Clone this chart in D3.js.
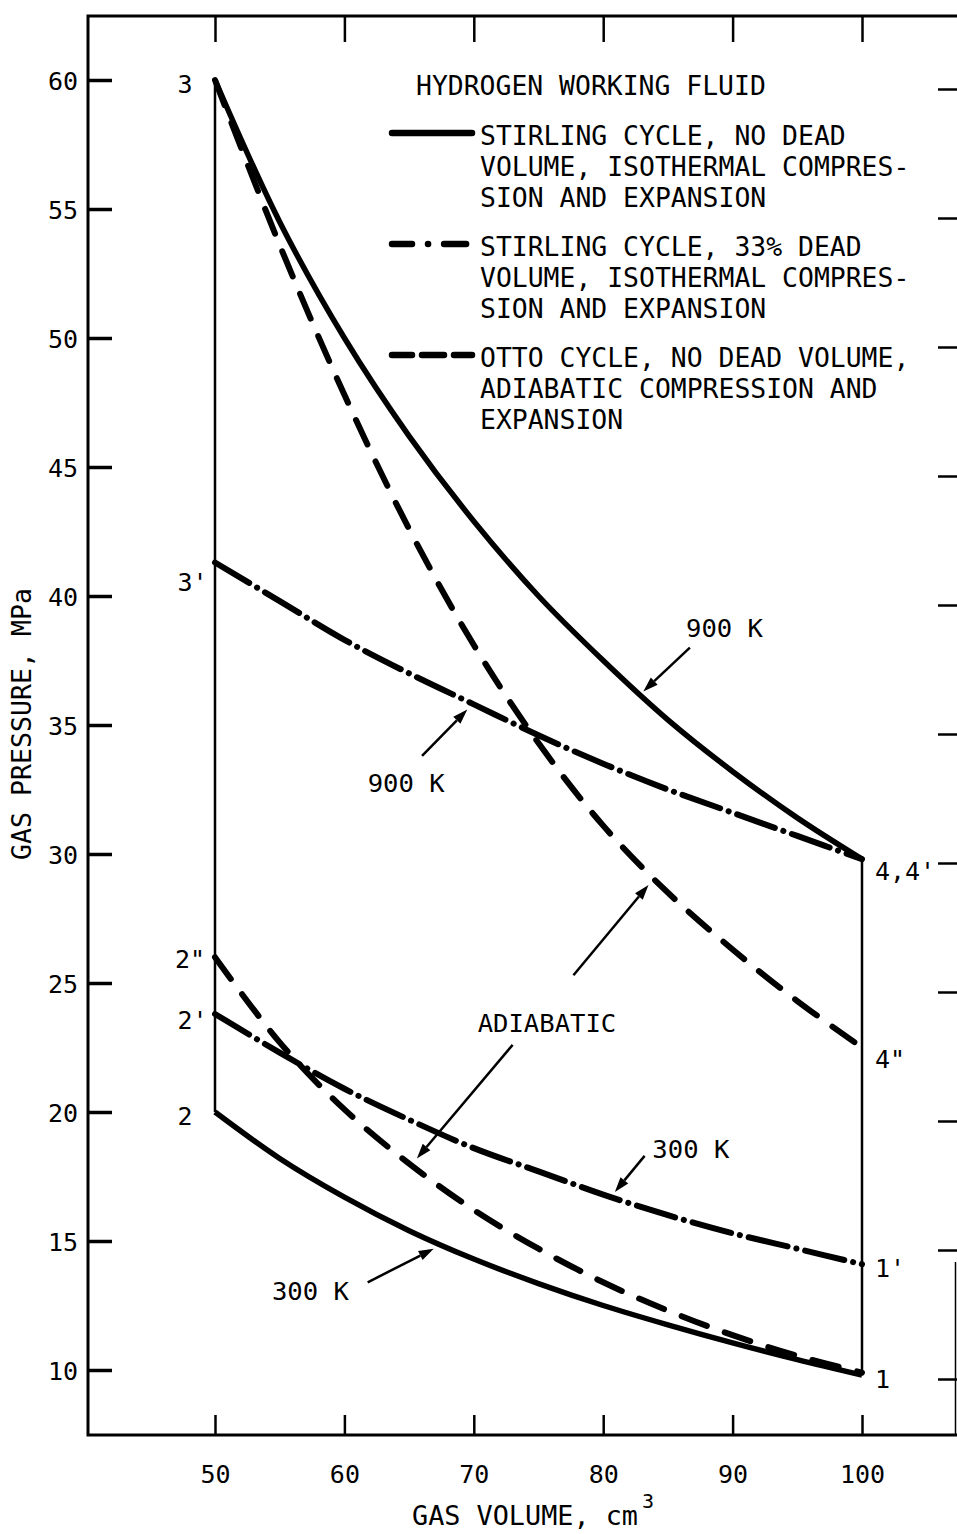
<!DOCTYPE html>
<html><head><meta charset="utf-8">
<script src="https://cdn.jsdelivr.net/npm/d3@7"></script>
<style>html,body{margin:0;padding:0;background:#fff;}svg text{font-family:'DejaVu Sans Mono',monospace;fill:#000;}</style>
</head><body>
<svg id="c" width="957" height="1534"></svg>
<script>
// ---- data ----
const volumes = [50,55,60,65,70,75,80,85,90,95,100];
const stirlingNoDead900 = [60,54.5,50,46.2,42.9,40,37.5,35.2,33.2,31.4,29.8];
const stirlingNoDead300 = [20,18.2,16.7,15.4,14.3,13.35,12.5,11.75,11.05,10.4,9.8];
const stirlingDead900   = [41.3,39.8,38.3,37.0,35.8,34.6,33.5,32.5,31.6,30.7,29.8];
const stirlingDead300   = [23.8,22.3,20.9,19.7,18.6,17.7,16.8,16.0,15.3,14.7,14.1];
const ottoAdiabatic900  = [60,53.6,47.8,42.6,38.1,34.3,31.1,28.5,26.3,24.3,22.5];
const ottoAdiabatic300  = [26,22.7,20.1,18.0,16.2,14.7,13.4,12.3,11.35,10.55,9.9];
const xTicks = [50,60,70,80,90,100];
const yTicks = [10,15,20,25,30,35,40,45,50,55,60];
const legendTitle = "HYDROGEN WORKING FLUID";
const legendItems = [
  ["STIRLING CYCLE, NO DEAD","VOLUME, ISOTHERMAL COMPRES-","SION AND EXPANSION"],
  ["STIRLING CYCLE, 33% DEAD","VOLUME, ISOTHERMAL COMPRES-","SION AND EXPANSION"],
  ["OTTO CYCLE, NO DEAD VOLUME,","ADIABATIC COMPRESSION AND","EXPANSION"]
];
const pointLabels = [
  {t:"3", v:47.1, p:59.5}, {t:"3'", v:47.1, p:40.2}, {t:"2\"", v:46.9, p:25.6},
  {t:"2'", v:47.1, p:23.2}, {t:"2", v:47.1, p:19.5},
  {t:"4,4'", v:101, p:29.0}, {t:"4\"", v:101, p:21.7}, {t:"1'", v:101, p:13.6}, {t:"1", v:101, p:9.3}
];
const noteLabels = [
  {t:"900 K", v:86.4, p:38.4}, {t:"900 K", v:61.8, p:32.4}, {t:"ADIABATIC", v:70.3, p:23.1},
  {t:"300 K", v:83.8, p:18.2}, {t:"300 K", v:54.4, p:12.7}
];
const arrows = [
  {v1:86.7,p1:38.0,v2:83.1,p2:36.3},
  {v1:66.0,p1:33.8,v2:69.5,p2:35.6},
  {v1:77.7,p1:25.3,v2:83.5,p2:28.8},
  {v1:73.0,p1:22.6,v2:65.6,p2:18.2},
  {v1:83.2,p1:18.3,v2:80.9,p2:16.9},
  {v1:61.8,p1:13.4,v2:66.9,p2:14.7}
];

// ---- layout ----
const svg = d3.select("#c");
const x = d3.scaleLinear().domain([50,100]).range([215,862]);
const y = d3.scaleLinear().domain([10,60]).range([1370,80]);
const L=88, R=957, T=16, B=1435;

// frame
const frame = svg.append("g").attr("stroke","#000").attr("stroke-width",3).attr("fill","none");
frame.append("path").attr("d",`M${R},${T}H${L}V${B}H${R}`);
frame.append("line").attr("x1",955.5).attr("x2",955.5).attr("y1",1262).attr("y2",B).attr("stroke-width",1.5);

// axes via d3 axis generators
const fs = 25;
const bottomAxis = d3.axisBottom(x).tickValues(xTicks).tickSize(-20).tickPadding(30).tickFormat(d3.format("d"));
const gB = svg.append("g").attr("transform",`translate(0,${B})`).call(bottomAxis);
const topAxis = d3.axisTop(x).tickValues(xTicks).tickSize(-26).tickFormat("");
const gT = svg.append("g").attr("transform",`translate(0,${T})`).call(topAxis);
const leftAxis = d3.axisLeft(y).tickValues(yTicks).tickSize(-24).tickPadding(10).tickFormat(d3.format("d"));
const gL = svg.append("g").attr("transform",`translate(${L},0)`).call(leftAxis);
const rightAxis = d3.axisRight(y).tickValues(yTicks).tickSize(-19).tickFormat("");
const gR = svg.append("g").attr("transform",`translate(${R},9)`).call(rightAxis);
[gB,gT,gL,gR].forEach(g=>{
  g.select(".domain").remove();
  g.selectAll(".tick line").attr("stroke","#000").attr("stroke-width",2.5);
  g.selectAll(".tick text").style("font-family","'DejaVu Sans Mono',monospace").style("font-size",fs+"px").attr("fill","#000");
});
gL.selectAll(".tick line").attr("stroke-width",3.5);
gL.selectAll(".tick text").attr("dy","0.36em");
gB.selectAll(".tick text").attr("dy","0.71em");

// axis titles
svg.append("text").attr("x",412).attr("y",1525).style("font-size","26px")
  .attr("textLength",226).attr("lengthAdjust","spacingAndGlyphs").text("GAS VOLUME, cm");
svg.append("text").attr("x",642).attr("y",1508).style("font-size","20px").text("3");
svg.append("text").attr("transform","translate(31,724) rotate(-90)").attr("text-anchor","middle")
  .style("font-size","26px").attr("textLength",272).attr("lengthAdjust","spacingAndGlyphs").text("GAS PRESSURE, MPa");

// cycle vertical lines (isochoric processes)
const vert = svg.append("g").attr("stroke","#000").attr("stroke-width",2.5);
vert.append("line").attr("x1",x(50)).attr("x2",x(50)).attr("y1",y(stirlingNoDead300[0])).attr("y2",y(stirlingNoDead900[0]));
const nL = volumes.length-1;
vert.append("line").attr("x1",x(100)).attr("x2",x(100)).attr("y1",y(stirlingNoDead300[nL])).attr("y2",y(stirlingNoDead900[nL]));

// curves
const line = d3.line().x(d=>x(d[0])).y(d=>y(d[1])).curve(d3.curveCatmullRom.alpha(0.5));
const styles = {
  solid:{w:5.5, dash:null},
  dashdot:{w:6, dash:"40 9 0.1 9"},
  dashed:{w:6, dash:"27 19"}
};
const series = [
  {vals:stirlingNoDead900, s:"solid"},
  {vals:stirlingNoDead300, s:"solid"},
  {vals:stirlingDead900, s:"dashdot"},
  {vals:stirlingDead300, s:"dashdot"},
  {vals:ottoAdiabatic900, s:"dashed"},
  {vals:ottoAdiabatic300, s:"dashed"}
];
series.forEach(se=>{
  const st = styles[se.s];
  svg.append("path").datum(volumes.map((v,i)=>[v,se.vals[i]]))
    .attr("d",line).attr("fill","none").attr("stroke","#000")
    .attr("stroke-width",st.w).attr("stroke-linecap",se.s==="solid"?"butt":"round")
    .attr("stroke-dasharray",st.dash);
});

// legend
svg.append("text").attr("x",416).attr("y",95).style("font-size","26px")
  .attr("textLength",legendTitle.length*15.9).attr("lengthAdjust","spacingAndGlyphs").text(legendTitle);
const legendTop = [145,256,367];
const legendSample = [
  {s:"solid", dash:null},
  {s:"dashdot", dash:"20 16 0.1 16 22"},
  {s:"dashed", dash:"20 10 22 10 22"}
];
legendItems.forEach((lines,k)=>{
  lines.forEach((t,j)=>{
    svg.append("text").attr("x",480).attr("y",legendTop[k]+j*31).style("font-size","26px")
      .attr("textLength",t.length*15.9).attr("lengthAdjust","spacingAndGlyphs").text(t);
  });
  const ly = legendTop[k]-12;
  svg.append("line").attr("x1",392).attr("x2",472).attr("y1",ly).attr("y2",ly)
    .attr("stroke","#000").attr("stroke-width",6.5).attr("stroke-linecap","round")
    .attr("stroke-dasharray",legendSample[k].dash);
});

// point labels
svg.append("g").selectAll("text").data(pointLabels).join("text")
  .attr("x",d=>x(d.v)).attr("y",d=>y(d.p)).style("font-size","25px").text(d=>d.t);
// annotation labels
svg.append("g").selectAll("text").data(noteLabels).join("text")
  .attr("x",d=>x(d.v)).attr("y",d=>y(d.p)).style("font-size","25px")
  .attr("textLength",d=>d.t.length*15.4).attr("lengthAdjust","spacingAndGlyphs").text(d=>d.t);

// arrows
const ag = svg.append("g");
arrows.forEach(a=>{
  const x1=x(a.v1), y1=y(a.p1), x2=x(a.v2), y2=y(a.p2);
  const ang = Math.atan2(y2-y1,x2-x1);
  const hl=15, hw=5;
  const bx = x2-hl*Math.cos(ang), by = y2-hl*Math.sin(ang);
  ag.append("line").attr("x1",x1).attr("y1",y1).attr("x2",bx).attr("y2",by)
    .attr("stroke","#000").attr("stroke-width",2.5);
  const px = -Math.sin(ang), py = Math.cos(ang);
  ag.append("path").attr("d",`M${x2},${y2}L${bx+px*hw},${by+py*hw}L${bx-px*hw},${by-py*hw}Z`).attr("fill","#000");
});
</script>
</body></html>
